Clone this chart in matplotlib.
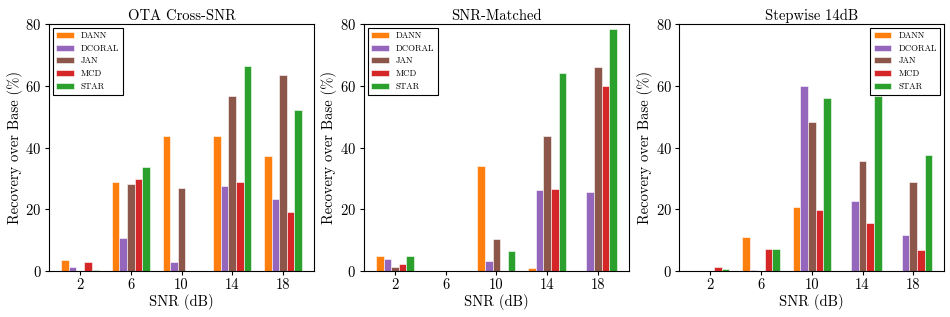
import numpy as np
import matplotlib
matplotlib.use("Agg")
import matplotlib.pyplot as plt

plt.rcParams['font.family'] = ['cmr10', 'DejaVu Serif']
plt.rcParams['mathtext.fontset'] = 'cm'
plt.rcParams['axes.unicode_minus'] = False
plt.rcParams['axes.formatter.use_mathtext'] = True

snr = [2, 6, 10, 14, 18]
methods = ["DANN", "DCORAL", "JAN", "MCD", "STAR"]
colors = ["tab:orange", "tab:purple", "tab:brown", "tab:red", "tab:green"]

# recovery over base (%), one list per method, per SNR
ota_cross = {
    "DANN":   [3.5, 28.8, 43.9, 43.7, 37.2],
    "DCORAL": [1.3, 10.8, 2.9, 27.7, 23.2],
    "JAN":    [0.0, 28.3, 26.8, 56.8, 63.4],
    "MCD":    [2.9, 29.9, 0.0, 28.8, 19.0],
    "STAR":   [0.4, 33.7, 0.0, 66.3, 52.2],
}
snr_matched = {
    "DANN":   [4.9, 0.0, 33.9, 1.1, 0.0],
    "DCORAL": [3.8, 0.0, 3.1, 26.2, 25.7],
    "JAN":    [1.3, 0.0, 10.3, 43.6, 66.1],
    "MCD":    [2.4, 0.0, 0.0, 26.6, 60.0],
    "STAR":   [4.9, 0.0, 6.5, 64.1, 78.5],
}
stepwise = {
    "DANN":   [0.0, 11.1, 20.9, 0.0, 0.0],
    "DCORAL": [0.0, 0.4, 59.8, 22.6, 11.8],
    "JAN":    [0.0, 0.0, 48.2, 35.8, 28.8],
    "MCD":    [1.2, 7.2, 19.7, 15.5, 6.7],
    "STAR":   [0.8, 7.1, 56.0, 56.8, 37.7],
}

panels = [
    ("OTA Cross-SNR", ota_cross, "upper left"),
    ("SNR-Matched", snr_matched, "upper left"),
    ("Stepwise 14dB", stepwise, "upper right"),
]

fig = plt.figure(figsize=(9.5, 3.17), dpi=100)
lefts = [0.0516, 0.383, 0.715]
width = 0.15
x = np.arange(len(snr))

for left, (title, data, loc) in zip(lefts, panels):
    ax = fig.add_axes([left, 0.145, 0.279, 0.779])
    for i, (m, c) in enumerate(zip(methods, colors)):
        ax.bar(x + (i - 2) * width, data[m], width, color=c, label=m,
               edgecolor='white', linewidth=0.4)
    ax.set_xticks(x)
    ax.set_xticklabels([str(s) for s in snr])
    ax.set_ylim(0, 80)
    ax.set_yticks([0, 20, 40, 60, 80])
    ax.set_title(title, fontsize=10.5, pad=3)
    ax.set_xlabel("SNR (dB)", fontsize=10.5, labelpad=1)
    ax.set_ylabel("Recovery over Base (%)", fontsize=10.5, labelpad=2)
    ax.tick_params(labelsize=10.5, length=3, pad=2.5)
    leg = ax.legend(loc=loc, fontsize=6.3, fancybox=False, edgecolor='black',
                    framealpha=1, borderaxespad=0.45)
    leg.get_frame().set_linewidth(0.8)

fig.savefig("out.png", dpi=100)
